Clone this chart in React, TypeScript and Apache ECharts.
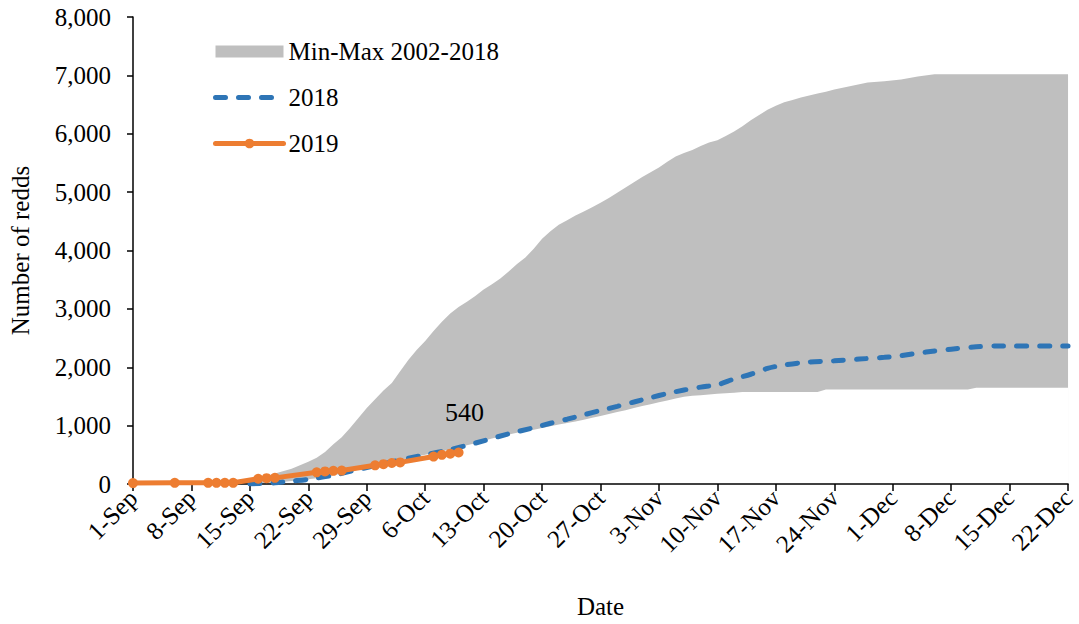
import React, { useEffect, useRef } from "react";
import * as echarts from "echarts";

// x values are days since 1-Sep
const tickLabels = ["1-Sep", "8-Sep", "15-Sep", "22-Sep", "29-Sep", "6-Oct", "13-Oct", "20-Oct", "27-Oct", "3-Nov", "10-Nov", "17-Nov", "24-Nov", "1-Dec", "8-Dec", "15-Dec", "22-Dec"];

const bandDays = [0, 10, 13, 15, 17, 19, 21, 22, 23, 24, 25, 26, 27, 28, 29, 30, 31, 32, 33, 34, 35, 36, 37, 38, 39, 40, 41, 42, 43, 44, 45, 46, 47, 48, 49, 50, 51, 52, 53, 54, 55, 56, 57, 58, 59, 60, 61, 62, 63, 64, 65, 66, 67, 68, 69, 70, 71, 72, 73, 74, 75, 76, 77, 78, 79, 80, 82, 83, 84, 86, 88, 90, 92, 94, 96, 100, 101, 112];
const bandMax = [10, 20, 40, 100, 180, 260, 380, 450, 550, 680, 800, 960, 1130, 1300, 1450, 1600, 1730, 1930, 2130, 2300, 2450, 2620, 2780, 2920, 3030, 3120, 3220, 3330, 3420, 3520, 3640, 3770, 3880, 4030, 4200, 4330, 4440, 4520, 4600, 4670, 4740, 4820, 4900, 4990, 5080, 5170, 5260, 5340, 5420, 5520, 5610, 5670, 5720, 5790, 5850, 5890, 5960, 6040, 6130, 6230, 6320, 6410, 6480, 6540, 6580, 6620, 6690, 6720, 6760, 6820, 6880, 6900, 6930, 6980, 7020, 7020, 7020, 7020];
const bandMin = [0, 0, 0, 0, 20, 50, 80, 100, 120, 150, 180, 210, 250, 280, 310, 345, 380, 410, 440, 470, 500, 530, 560, 590, 630, 665, 700, 740, 780, 815, 850, 880, 905, 930, 960, 990, 1020, 1045, 1070, 1100, 1135, 1165, 1200, 1235, 1265, 1300, 1335, 1365, 1400, 1430, 1465, 1496, 1510, 1522, 1535, 1545, 1555, 1565, 1575, 1575, 1575, 1575, 1575, 1575, 1575, 1575, 1575, 1619, 1619, 1619, 1619, 1619, 1619, 1619, 1619, 1619, 1647, 1647];

const days2018 = [14, 17, 19, 21, 24, 27, 31, 35, 38, 41, 45, 48, 50, 52, 54, 56, 58, 60, 62, 64, 66, 68, 70, 72, 74, 76, 78, 81, 84, 87, 90, 92, 95, 98, 101, 104, 112];
const values2018 = [0, 20, 50, 80, 150, 250, 380, 500, 590, 700, 860, 965, 1040, 1110, 1185, 1260, 1330, 1405, 1480, 1550, 1610, 1660, 1700, 1800, 1880, 1980, 2040, 2090, 2110, 2140, 2170, 2200, 2260, 2310, 2350, 2365, 2365];

const days2019 = [0, 5, 9, 10, 11, 12, 15, 16, 17, 22, 23, 24, 25, 29, 30, 31, 32, 36, 37, 38, 39];
const values2019 = [15, 20, 20, 20, 20, 20, 90, 100, 105, 200, 215, 225, 230, 320, 340, 360, 370, 470, 500, 520, 540];

const FONT = "'Liberation Serif', 'Times New Roman', serif";
const BLUE = "#2E75B6";
const ORANGE = "#ED7D31";
const GRAY = "#BFBFBF";
const DASH = [10, 13];

export default function App() {
  const ref = useRef<HTMLDivElement>(null);
  useEffect(() => {
    if (!ref.current) return;
    const chart = echarts.init(ref.current, undefined, { renderer: "svg" });
    const last = days2019.length - 1;
    chart.setOption({
      animation: false,
      backgroundColor: "#fff",
      textStyle: { fontFamily: FONT, color: "#000" },
      grid: { left: 125, right: 8, top: 17, bottom: 131, containLabel: false },
      legend: {
        orient: "vertical",
        left: 208,
        top: 34,
        itemWidth: 68,
        itemHeight: 12,
        itemGap: 21,
        textStyle: { fontFamily: FONT, fontSize: 25, color: "#000" },
        data: [
          { name: "Min-Max 2002-2018", icon: "rect" },
          {
            name: "2018",
            itemStyle: { opacity: 0 },
            lineStyle: { width: 5, type: DASH, cap: "round", color: BLUE },
          },
          {
            name: "2019",
            lineStyle: { width: 5, cap: "round", color: ORANGE },
          },
        ],
      },
      xAxis: {
        type: "value",
        min: 0,
        max: 112,
        interval: 7,
        z: 3,
        name: "Date",
        nameLocation: "middle",
        nameGap: 110,
        nameTextStyle: { fontFamily: FONT, fontSize: 25, color: "#000" },
        splitLine: { show: false },
        axisLine: { show: true, lineStyle: { color: "#000", width: 1.5 } },
        axisTick: { show: true, length: 7, lineStyle: { color: "#000", width: 1.5 } },
        axisLabel: {
          rotate: 45,
          margin: 10,
          fontFamily: FONT,
          fontSize: 25,
          color: "#000",
          formatter: (v: number) => tickLabels[Math.round(v / 7)] ?? "",
        },
      },
      yAxis: {
        type: "value",
        min: 0,
        max: 8000,
        interval: 1000,
        z: 3,
        name: "Number of redds",
        nameLocation: "middle",
        nameGap: 100,
        nameTextStyle: { fontFamily: FONT, fontSize: 25, color: "#000" },
        splitLine: { show: false },
        axisLine: { show: true, lineStyle: { color: "#000", width: 1.5 } },
        axisTick: { show: true, length: 6, lineStyle: { color: "#000", width: 1.5 } },
        axisLabel: {
          margin: 22,
          fontFamily: FONT,
          fontSize: 25,
          color: "#000",
          formatter: (v: number) => v.toLocaleString("en-US"),
        },
      },
      series: [
        {
          name: "Min-Max 2002-2018",
          type: "line",
          symbol: "none",
          color: GRAY,
          lineStyle: { width: 0 },
          itemStyle: { color: GRAY },
          areaStyle: { color: GRAY, opacity: 1 },
          data: bandDays.map((d, i) => [d, bandMax[i]]),
          z: 1,
        },
        {
          name: "min-mask",
          type: "line",
          symbol: "none",
          color: "#ffffff",
          lineStyle: { width: 0 },
          itemStyle: { color: "#ffffff" },
          areaStyle: { color: "#ffffff", opacity: 1 },
          data: bandDays.map((d, i) => [d, bandMin[i]]),
          silent: true,
          z: 2,
        },
        {
          name: "2018",
          type: "line",
          symbol: "none",
          smooth: 0.3,
          color: BLUE,
          itemStyle: { color: BLUE },
          lineStyle: { color: BLUE, width: 5, type: DASH, cap: "round" },
          data: days2018.map((d, i) => [d, values2018[i]]),
          z: 4,
        },
        {
          name: "2019",
          type: "line",
          symbol: "circle",
          symbolSize: 10,
          color: ORANGE,
          itemStyle: { color: ORANGE },
          lineStyle: { color: ORANGE, width: 5 },
          data: days2019.map((d, i) =>
            i === last
              ? {
                  value: [d, values2019[i]],
                  label: {
                    show: true,
                    position: "top",
                    distance: 22,
                    offset: [6, 0],
                    fontFamily: FONT,
                    fontSize: 26,
                    color: "#000",
                    formatter: (p: any) => String(p.value[1]),
                  },
                }
              : [d, values2019[i]]
          ),
          z: 5,
        },
      ],
    });
    return () => chart.dispose();
  }, []);
  return (
    <div
      ref={ref}
      style={{ position: "fixed", left: 0, top: 0, width: 1079, height: 624, background: "#fff" }}
    />
  );
}
